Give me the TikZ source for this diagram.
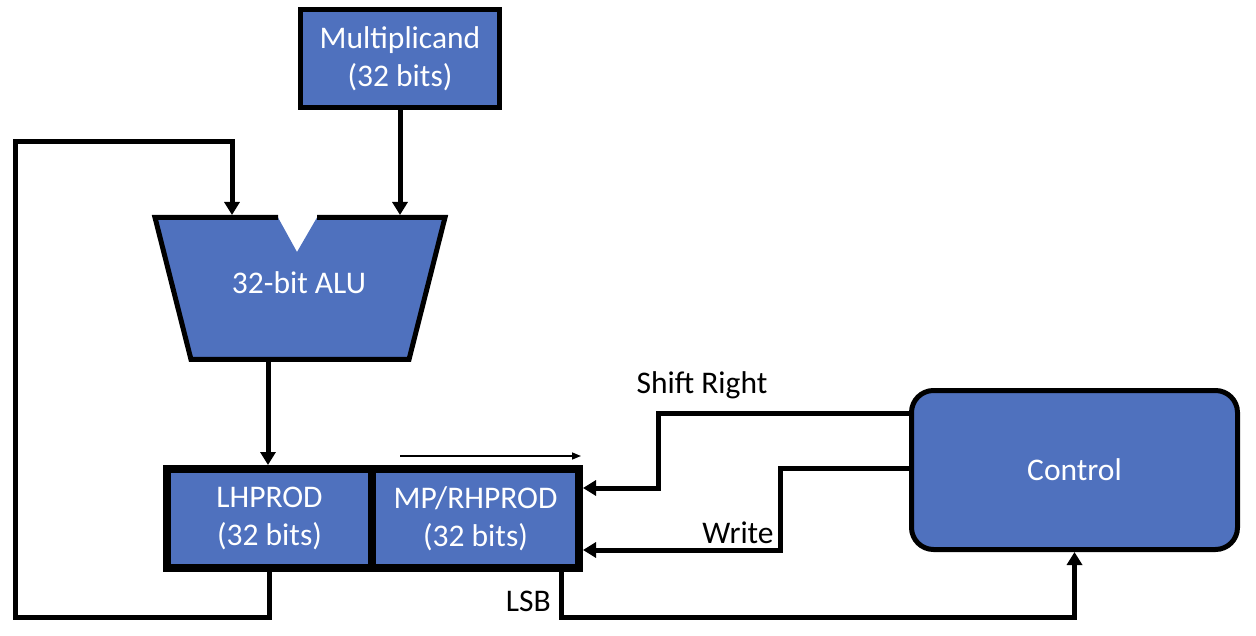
\documentclass[tikz,border=0pt]{standalone}
\usepackage{fontspec}
\setmainfont{Carlito}
\usetikzlibrary{arrows.meta,calc}
\definecolor{boxblue}{HTML}{4F71BE}
\begin{document}
\begin{tikzpicture}[x=1pt,y=-1pt,
  blk/.style={draw=black, fill=boxblue, text=white, line width=5pt, outer sep=2.5pt, inner sep=0pt, align=center, font=\fontsize{31.5}{38}\selectfont},
  reg/.style={blk, line width=8pt, outer sep=4pt},
  conn/.style={line width=5pt, -{Triangle[length=13pt,width=15pt]}},
  lbl/.style={font=\fontsize{31.5}{38}\selectfont, text=black, inner sep=0pt},
  thinarrow/.style={line width=1.5pt, -{Triangle[length=9pt,width=7pt]}}]
\useasboundingbox (0,0) rectangle (1256,636);
% boxes
\node[blk, minimum width=199pt, minimum height=98pt] (mc) at (400,58.5) {Multiplicand\\(32 bits)};
\fill[boxblue] (155,217.5) -- (278,217.5) -- (297,252) -- (317,217.5) -- (445,217.5) -- (409,359.5) -- (191,359.5) -- cycle;
\draw[line width=5pt] (278,217.5) -- (155,217.5) -- (191,359.5) -- (409,359.5) -- (445,217.5) -- (317,217.5);
\node[lbl, text=white] (alu) at (299,283) {32-bit ALU};
\node[reg, minimum width=205pt, minimum height=99pt] (lh) at (269.5,518.5) {LHPROD\\(32 bits)};
\node[reg, minimum width=207pt, minimum height=99pt] (mp) at (475.5,518.5) {MP/RHPROD\\(32 bits)};
\node[blk, rounded corners=22pt, minimum width=326pt, minimum height=159pt] (ctrl) at (1074.5,470) {Control};
% coordinates
\coordinate (aluinL) at (232,215);
\coordinate (aluinR) at (400,215);
\coordinate (aluout) at (268,359.5);
\coordinate (fbL) at (15,617);
\coordinate (fbT) at (232,142);
\coordinate (lsb) at (561,617);
\coordinate (srA) at (658,413);
\coordinate (srB) at (658,488);
\coordinate (wA) at (780,468);
\coordinate (wB) at (780,550);
\coordinate (sa1) at (400,456);
\coordinate (sa2) at (581,456);
% connectors
\draw[conn] (mc.south) -- (aluinR);
\draw[conn] (aluout) -- (aluout |- lh.north);
\draw[conn] (lh.south) |- (fbL) |- (fbT) -- (aluinL);
\draw[conn] (mp.south -| lsb) -- (lsb) -| (ctrl.south);
\draw[conn] (ctrl.west |- srA) -- (srA) -- (srB) -- (mp.east |- srB);
\draw[conn] (ctrl.west |- wA) -- (wA) -- (wB) -- (mp.east |- wB);
\draw[thinarrow] (sa1) -- (sa2);
% labels
\node[lbl] (srl) at (702,385) {Shift Right};
\node[lbl] (wl) at (738,533) {Write};
\node[lbl, anchor=east] (lsbl) at (551,601) {LSB};
\end{tikzpicture}
\end{document}
